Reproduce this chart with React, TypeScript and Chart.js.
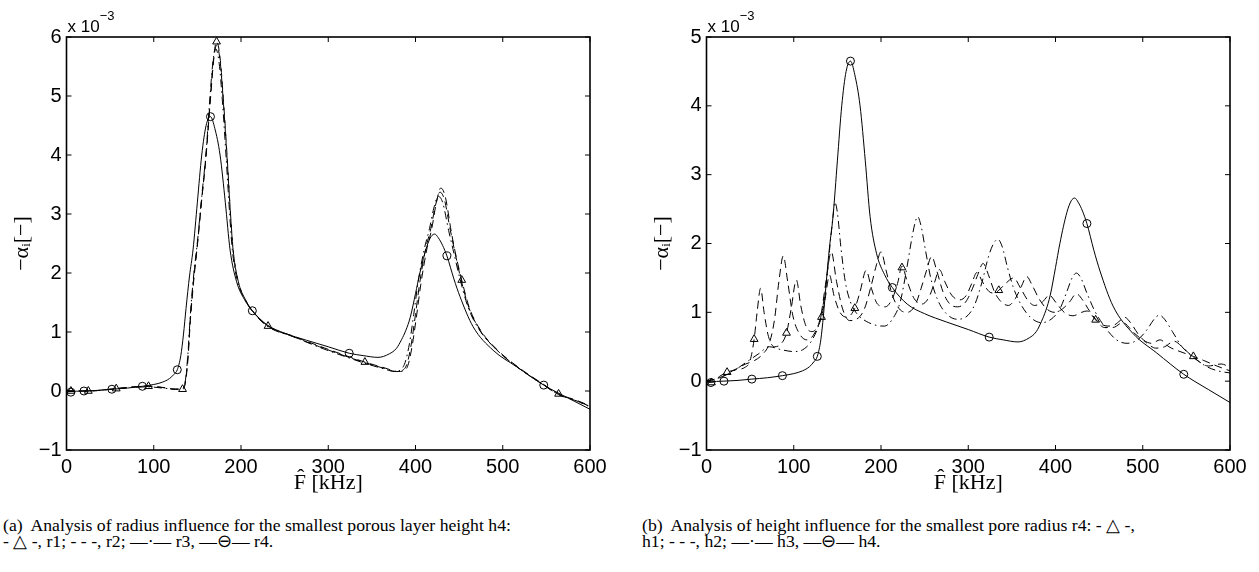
import React, { useEffect, useRef } from "react";
import { Chart, registerables } from "chart.js";

Chart.register(...registerables);

type Pt = [number, number];

// ---------- ticks ----------
const xTickValues = [0, 100, 200, 300, 400, 500, 600];
const yTickValuesA = [-1, 0, 1, 2, 3, 4, 5, 6];
const yTickValuesB = [-1, 0, 1, 2, 3, 4, 5];

// ---------- panel (a): radius influence, h4 ----------
const r1Curve: Pt[] = [
  [0, 0.0], [5, 0.0], [25, 0.0], [57, 0.04], [75, 0.07], [94, 0.08], [110, 0.06], [125, 0.03], [133, 0.03],
  [136, 0.12], [139, 0.5], [142, 1.2], [146, 1.9], [149.5, 2.39], [155, 3.25], [160, 4.0], [165, 5.0], [169, 5.7],
  [172, 5.92], [176, 5.65], [180, 4.9], [184, 4.0], [188, 3.0], [191, 2.39], [197, 1.85], [205, 1.55], [213, 1.36],
  [231, 1.1], [260, 0.93], [290, 0.76], [320, 0.6], [342, 0.49], [365, 0.39], [380, 0.33], [386, 0.34], [391, 0.42],
  [396, 0.75], [401, 1.25], [406, 1.8], [412.8, 2.39], [418.6, 2.75], [424, 3.2], [429, 3.44], [434, 3.3], [441, 2.7],
  [445, 2.39], [453, 1.88], [462, 1.4], [475, 1.02], [495, 0.68], [520, 0.38], [545, 0.13], [564, -0.05], [585, -0.16],
  [600, -0.25],
];
const r1Markers: Pt[] = [
  [5, 0.0], [25, 0.0], [57, 0.04], [94, 0.08], [133, 0.03], [172, 5.92], [231, 1.1], [342, 0.49], [453, 1.88], [564, -0.05],
];
const r2Curve: Pt[] = [
  [0, 0.0], [25, 0.0], [57, 0.04], [94, 0.08], [110, 0.06], [125, 0.03], [133, 0.04],
  [136, 0.14], [139, 0.55], [142, 1.25], [146, 1.95], [149.5, 2.42], [155, 3.25], [160, 4.0], [165, 4.95], [169, 5.65],
  [172, 5.86], [176, 5.6], [180, 4.85], [184, 3.95], [188, 2.98], [191, 2.38], [197, 1.85], [205, 1.55], [213, 1.36],
  [231, 1.1], [260, 0.92], [290, 0.75], [320, 0.59], [342, 0.48], [365, 0.38], [378, 0.33], [385, 0.35], [390, 0.45],
  [395, 0.78], [400, 1.3], [405, 1.85], [411.5, 2.4], [417.5, 2.75], [423, 3.15], [428, 3.37], [433, 3.25], [440, 2.72],
  [444.5, 2.4], [452, 1.9], [461, 1.42], [474, 1.03], [495, 0.67], [520, 0.37], [545, 0.12], [564, -0.06], [585, -0.17],
  [600, -0.26],
];
const r3Curve: Pt[] = [
  [0, 0.0], [25, 0.0], [57, 0.04], [94, 0.07], [110, 0.05], [125, 0.03], [133, 0.04],
  [136, 0.15], [139, 0.6], [142, 1.3], [146, 2.0], [149.5, 2.45], [155, 3.3], [160, 4.05], [164, 4.9], [168, 5.6],
  [171, 5.8], [175, 5.55], [179, 4.85], [183, 3.95], [187, 3.0], [190, 2.4], [196, 1.86], [205, 1.54], [213, 1.35],
  [231, 1.09], [260, 0.92], [290, 0.74], [320, 0.58], [342, 0.47], [365, 0.37], [376, 0.33], [383, 0.36], [388, 0.48],
  [393, 0.8], [398, 1.3], [403, 1.85], [410, 2.4], [416, 2.75], [421, 3.1], [426, 3.3], [431, 3.2], [438, 2.72],
  [443, 2.4], [451, 1.9], [460, 1.43], [473, 1.04], [495, 0.67], [520, 0.37], [545, 0.12], [564, -0.06], [585, -0.17],
  [600, -0.27],
];
// r4 in (a) and h4 in (b) are the same configuration
const r4h4Curve: Pt[] = [
  [0, -0.02], [4, -0.01], [19, 0.0], [35, 0.01], [52, 0.03], [70, 0.05], [87, 0.08], [100, 0.11], [110, 0.15],
  [118, 0.21], [123, 0.28], [127, 0.36], [131, 0.6], [134, 0.95], [137, 1.4], [141, 1.95], [145, 2.39], [150, 3.2],
  [155, 4.0], [160, 4.5], [165, 4.65], [170, 4.45], [176, 4.0], [182, 3.2], [187.5, 2.39], [195, 1.85], [204, 1.55],
  [213, 1.36], [230, 1.12], [250, 0.98], [275, 0.86], [300, 0.75], [324, 0.64], [340, 0.6], [357, 0.57], [370, 0.63],
  [378, 0.72], [384, 0.87], [389, 1.03], [394, 1.25], [400, 1.65], [405, 2.0], [413, 2.45], [418, 2.62], [422, 2.66],
  [426, 2.6], [431, 2.47], [436, 2.29], [444, 1.9], [451, 1.6], [466, 1.09], [489, 0.69], [516, 0.41], [547, 0.1],
  [575, -0.12], [600, -0.31],
];
const r4h4Markers: Pt[] = [
  [5, -0.02], [20, 0.0], [52, 0.03], [87, 0.08], [127, 0.36], [165, 4.65], [213, 1.36], [324, 0.64], [436, 2.29], [547, 0.1],
];

// ---------- panel (b): height influence, r4 ----------
const h1Curve: Pt[] = [
  [0, 0.0], [5.7, -0.02], [15, 0.07], [23.6, 0.13], [35, 0.17], [44, 0.2], [50, 0.3], [54.6, 0.61], [58, 1.0],
  [62, 1.35], [66, 1.0], [71, 0.65], [78, 0.5], [86, 0.55], [91.7, 0.7], [97, 1.05], [103, 1.47], [108, 1.1],
  [114, 0.8], [121, 0.72], [127, 0.78], [131.8, 0.93], [136, 1.2], [141, 1.54], [146, 1.25], [153, 1.0], [161, 0.93],
  [170, 1.06], [176, 1.3], [183, 1.61], [189, 1.35], [196, 1.12], [205, 1.08], [213, 1.2], [219, 1.42], [224, 1.67],
  [230, 1.45], [238, 1.2], [247, 1.12], [255, 1.22], [261, 1.42], [267, 1.62], [273, 1.45], [281, 1.25], [290, 1.18],
  [298, 1.25], [304, 1.42], [310, 1.58], [316, 1.45], [324, 1.3], [330, 1.28], [335, 1.32], [343, 1.42], [352, 1.5],
  [360, 1.35], [368, 1.18], [376, 1.1], [385, 1.15], [393, 1.25], [400, 1.15], [410, 1.0], [420, 0.95], [430, 1.0],
  [436, 1.02], [446, 0.89], [456, 0.78], [466, 0.78], [477, 0.85], [490, 0.7], [500, 0.6], [510, 0.55], [520, 0.6],
  [530, 0.5], [545, 0.42], [558, 0.36], [570, 0.3], [585, 0.22], [600, 0.15],
];
const h1Markers: Pt[] = [
  [5.7, -0.02], [23.6, 0.13], [54.6, 0.61], [91.7, 0.7], [131.8, 0.93], [170, 1.06], [224, 1.65], [335, 1.32],
  [446, 0.89], [558, 0.36],
];
const h2Curve: Pt[] = [
  [0, 0.0], [15, 0.05], [30, 0.15], [45, 0.25], [55, 0.3], [65, 0.4], [72, 0.55], [78, 0.9], [83, 1.45], [88, 1.82],
  [93, 1.45], [99, 0.95], [106, 0.7], [115, 0.6], [124, 0.7], [131, 0.95], [137, 1.45], [143, 1.88], [149, 1.45],
  [156, 1.05], [164, 0.88], [172, 0.9], [181, 1.05], [189, 1.4], [195, 1.7], [200, 1.88], [206, 1.6], [213, 1.25],
  [221, 1.05], [230, 1.0], [239, 1.1], [246, 1.35], [252, 1.6], [258, 1.81], [264, 1.6], [271, 1.3], [279, 1.12],
  [288, 1.08], [297, 1.15], [305, 1.35], [311, 1.55], [317, 1.71], [323, 1.55], [330, 1.3], [338, 1.15], [346, 1.1],
  [354, 1.2], [361, 1.38], [367, 1.52], [373, 1.4], [381, 1.2], [390, 1.05], [399, 1.0], [408, 1.05], [416, 1.15],
  [424, 1.27], [431, 1.18], [440, 1.0], [450, 0.85], [460, 0.8], [468, 0.82], [474, 0.88], [479, 0.93], [486, 0.85],
  [495, 0.68], [505, 0.55], [515, 0.48], [525, 0.5], [536, 0.58], [545, 0.5], [555, 0.38], [565, 0.28], [575, 0.22],
  [590, 0.25], [600, 0.2],
];
const h3Curve: Pt[] = [
  [0, 0.0], [15, 0.05], [30, 0.14], [45, 0.27], [60, 0.4], [72, 0.5], [85, 0.46], [100, 0.43], [112, 0.47],
  [122, 0.62], [130, 0.88], [136, 1.3], [141, 1.9], [145, 2.4], [147, 2.6], [150, 2.45], [154, 1.95], [159, 1.45],
  [165, 1.15], [173, 0.97], [183, 0.87], [195, 0.81], [204, 0.8], [213, 0.9], [222, 1.15], [229, 1.6], [235, 2.05],
  [239, 2.3], [242, 2.39], [246, 2.25], [251, 1.9], [257, 1.5], [265, 1.18], [275, 0.98], [287, 0.9], [297, 0.93],
  [307, 1.1], [316, 1.45], [323, 1.8], [329, 2.0], [334, 2.06], [339, 1.95], [345, 1.65], [352, 1.35], [361, 1.1],
  [372, 0.92], [384, 0.85], [395, 0.9], [405, 1.05], [413, 1.3], [419, 1.5], [424, 1.57], [429, 1.5], [436, 1.28],
  [445, 1.02], [457, 0.78], [470, 0.6], [482, 0.55], [494, 0.6], [505, 0.75], [513, 0.9], [519, 0.96], [525, 0.9],
  [534, 0.72], [545, 0.5], [558, 0.35], [572, 0.22], [586, 0.15], [600, 0.12],
];

// ---------- styling helpers ----------
const DASH: number[] = [8, 5];
const DASHDOT: number[] = [8, 4, 1.5, 4];
const toXY = (pts: Pt[]) => pts.map(([x, y]) => ({ x, y }));

function lineDs(label: string, pts: Pt[], dash: number[]) {
  return {
    label,
    data: toXY(pts),
    showLine: true,
    borderColor: "#000",
    borderWidth: 1,
    borderDash: dash,
    pointRadius: 0,
    pointHoverRadius: 0,
    cubicInterpolationMode: "monotone",
    fill: false,
  };
}
function markerDs(label: string, pts: Pt[], style: string) {
  return {
    label,
    data: toXY(pts),
    showLine: false,
    pointStyle: style,
    pointRadius: style === "triangle" ? 4.5 : 4,
    pointBorderColor: "#000",
    pointBackgroundColor: "rgba(0,0,0,0)",
    pointBorderWidth: 1,
  };
}

const fmt = (v: number | string) => {
  const n = Number(v);
  return n < 0 ? "\u2212" + Math.abs(n) : String(n);
};

const framePlugin = {
  id: "frame",
  afterDatasetsDraw(chart: any, _args: any, opts: any) {
    const { ctx, chartArea: a, scales } = chart;
    const xs = scales.x;
    const ys = scales.y;
    ctx.save();
    ctx.strokeStyle = "#000";
    ctx.lineWidth = 1.6;
    ctx.strokeRect(a.left, a.top, a.right - a.left, a.bottom - a.top);
    ctx.lineWidth = 1;
    const L = 5;
    const seg = (x1: number, y1: number, x2: number, y2: number) => {
      ctx.beginPath();
      ctx.moveTo(x1, y1);
      ctx.lineTo(x2, y2);
      ctx.stroke();
    };
    for (const t of xs.ticks) {
      const px = xs.getPixelForValue(t.value);
      seg(px, a.bottom, px, a.bottom - L);
      seg(px, a.top, px, a.top + L);
    }
    for (const t of ys.ticks) {
      const py = ys.getPixelForValue(t.value);
      seg(a.left, py, a.left + L, py);
      seg(a.right, py, a.right - L, py);
    }
    ctx.fillStyle = "#000";
    ctx.textBaseline = "alphabetic";
    ctx.textAlign = "left";
    ctx.font = '17px "Liberation Sans", Arial, sans-serif';
    ctx.fillText("x 10", a.left + 1, a.top - 5);
    const w = ctx.measureText("x 10").width;
    ctx.font = '13px "Liberation Sans", Arial, sans-serif';
    ctx.fillText(opts.exponent || "\u22123", a.left + 1 + w, a.top - 17);
    ctx.restore();
  },
};

const tickFont = { family: '"Liberation Sans", Arial, sans-serif', size: 20 };
const titleFont = { family: '"Liberation Serif", "DejaVu Serif", serif', size: 22 };

function makeConfig(datasets: any[], yMax: number, yTicks: number[]) {
  return {
    type: "scatter",
    data: { datasets },
    options: {
      responsive: false,
      animation: false,
      devicePixelRatio: 1,
      events: [],
      layout: { padding: { left: 0, top: 37, right: 29, bottom: 0 } },
      plugins: {
        legend: { display: false },
        tooltip: { enabled: false },
        frame: { exponent: "\u22123" },
      },
      scales: {
        x: {
          type: "linear",
          min: 0,
          max: 600,
          afterBuildTicks: (s: any) => {
            s.ticks = xTickValues.map((v) => ({ value: v }));
          },
          afterFit: (s: any) => {
            s.height = 50;
          },
          grid: { display: false, drawTicks: false },
          border: { display: false },
          ticks: { padding: 5, font: tickFont, color: "#000", maxRotation: 0, autoSkip: false, callback: fmt },
          title: {
            display: true,
            text: "F\u0302 [kHz]",
            font: titleFont,
            color: "#000",
            padding: { top: 0, bottom: 4 },
          },
        },
        y: {
          type: "linear",
          min: -1,
          max: yMax,
          afterBuildTicks: (s: any) => {
            s.ticks = yTicks.map((v) => ({ value: v }));
          },
          afterFit: (s: any) => {
            s.width = 66.5;
          },
          grid: { display: false, drawTicks: false },
          border: { display: false },
          ticks: { padding: 5, font: tickFont, color: "#000", autoSkip: false, callback: fmt },
          title: {
            display: true,
            text: "\u2212\u03b1\u1d62[\u2212]",
            font: titleFont,
            color: "#000",
            padding: { top: 9, bottom: 0 },
          },
        },
      },
    },
    plugins: [framePlugin],
  };
}

function Panel({ datasets, yMax, yTicks, left }: { datasets: any[]; yMax: number; yTicks: number[]; left: number }) {
  const ref = useRef<HTMLCanvasElement | null>(null);
  useEffect(() => {
    if (!ref.current) return;
    const chart = new Chart(ref.current, makeConfig(datasets, yMax, yTicks) as any);
    return () => chart.destroy();
  }, []);
  return (
    <canvas
      ref={ref}
      width={619}
      height={500}
      style={{ position: "absolute", left, top: 0, width: 619, height: 500 }}
    />
  );
}

const captionStyle: React.CSSProperties = {
  position: "absolute",
  top: 516.5,
  fontFamily: '"Liberation Serif", "Times New Roman", serif',
  fontSize: 17.7,
  lineHeight: "16.5px",
  color: "#000",
  whiteSpace: "nowrap",
};

export default function App() {
  const dsA = [
    lineDs("r2", r2Curve, DASH),
    lineDs("r3", r3Curve, DASHDOT),
    lineDs("r1", r1Curve, DASH),
    markerDs("r1 markers", r1Markers, "triangle"),
    lineDs("r4", r4h4Curve, []),
    markerDs("r4 markers", r4h4Markers, "circle"),
  ];
  const dsB = [
    lineDs("h2", h2Curve, DASH),
    lineDs("h3", h3Curve, DASHDOT),
    lineDs("h1", h1Curve, DASH),
    markerDs("h1 markers", h1Markers, "triangle"),
    lineDs("h4", r4h4Curve, []),
    markerDs("h4 markers", r4h4Markers, "circle"),
  ];
  return (
    <div style={{ position: "fixed", left: 0, top: 0, width: 1259, height: 572, background: "#fff", overflow: "hidden" }}>
      <Panel datasets={dsA} yMax={6} yTicks={yTickValuesA} left={0} />
      <Panel datasets={dsB} yMax={5} yTicks={yTickValuesB} left={640} />
      <div style={{ ...captionStyle, left: 3 }}>
        (a)&nbsp; Analysis of radius influence for the smallest porous layer height h4:
        <br />- △ -, r1; - - -, r2; —·— r3, —⊖— r4.
      </div>
      <div style={{ ...captionStyle, left: 642 }}>
        (b)&nbsp; Analysis of height influence for the smallest pore radius r4: - △ -,
        <br />h1; - - -, h2; —·— h3, —⊖— h4.
      </div>
    </div>
  );
}
